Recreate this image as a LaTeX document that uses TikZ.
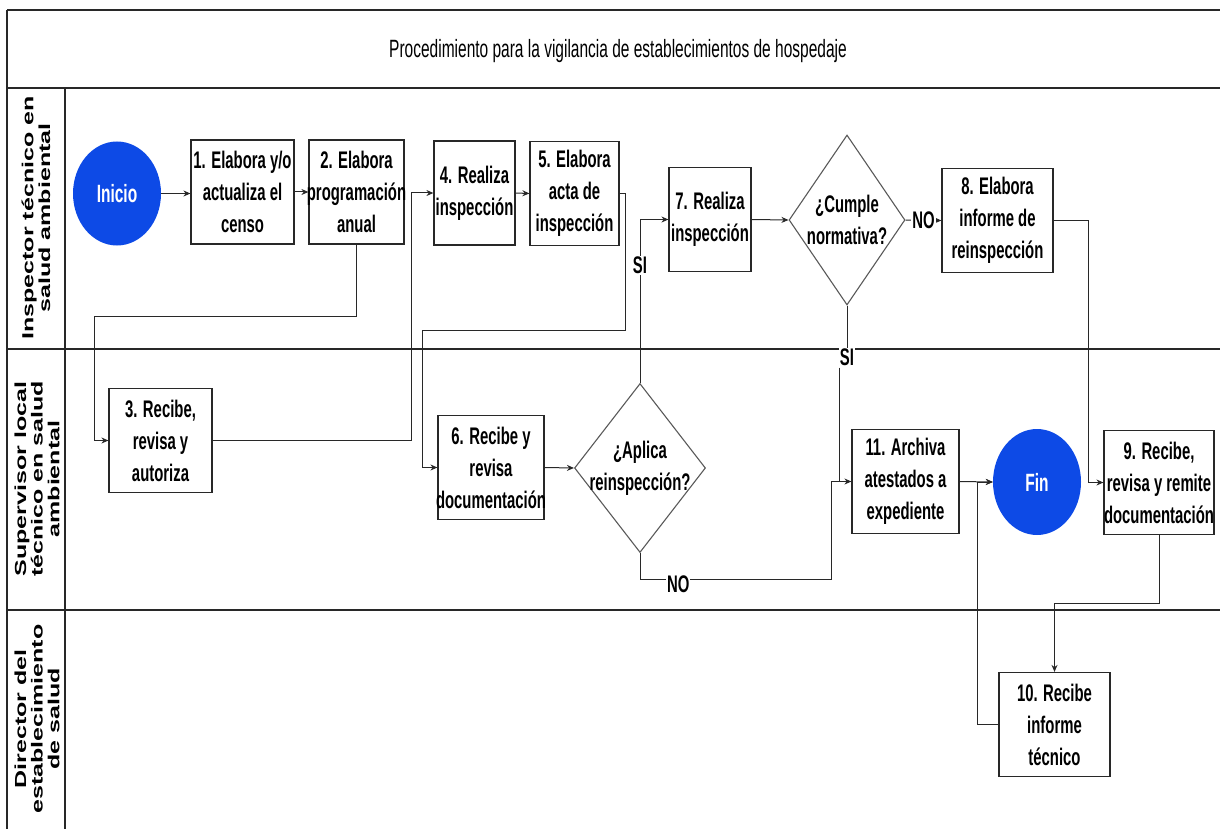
\documentclass[tikz,border=0pt]{standalone}
\usepackage{fontspec}
\setmainfont{Liberation Sans}
\newfontfamily\fuentepaso{Liberation Sans}[FakeStretch=0.62]
\usetikzlibrary{shapes.geometric,arrows.meta}

\definecolor{azulfin}{RGB}{13,74,230}
\definecolor{borde}{RGB}{40,40,40}

\tikzstyle{paso} = [rectangle, draw=borde, line width=1.2pt, align=center, minimum height=104pt, inner xsep=-3pt, inner ysep=0pt, font=\fuentepaso\bfseries\fontsize{24}{32}\selectfont]
\tikzstyle{rombo} = [diamond, draw=black!65, line width=1.1pt, align=center, inner sep=-9pt, font=\fuentepaso\bfseries\fontsize{24}{32}\selectfont]
\tikzstyle{terminal} = [ellipse, fill=azulfin, text=white, minimum width=88pt, minimum height=104pt, inner sep=0pt, font=\fuentepaso\bfseries\fontsize{25}{25}\selectfont]
\tikzstyle{carril} = [rotate=90, yscale=0.64, align=center, font=\bfseries\fontsize{25}{26}\selectfont]
\tikzstyle{etiq} = [fill=white, inner sep=1pt, font=\fuentepaso\bfseries\fontsize{24}{24}\selectfont]

\begin{document}
\begin{tikzpicture}[x=1pt, y=-1pt]
        \tikzset{marco/.style={draw=borde, line width=1.4pt},
                 linea/.style={draw=borde, line width=1pt},
                 flecha/.style={linea, -{Stealth[length=7pt,width=6pt]}}}
        \useasboundingbox (0,0) rectangle (1220,829);
        % Marco de carriles
        \foreach \yy in {10,88,349,610}
            \draw[marco] (7,\yy) -- (1220,\yy);
        \draw[marco] (7,10) -- (7,829);
        \draw[marco] (65,88) -- (65,829);
        \node (titulo) at (618,51) [font=\fuentepaso\fontsize{25}{25}\selectfont] {Procedimiento para la vigilancia de establecimientos de hospedaje};
        \node (inspector) at (36,218) [carril] {Inspector técnico en\\salud ambiental};
        \node (supervisor) at (37,479) [carril] {Supervisor local\\técnico en salud\\ambiental};
        \node (director) at (37,719) [carril] {Director del\\establecimiento\\de salud};
        % Pasos
        \node (inicio) at (117,193.5) [terminal] {Inicio};
        \node (p1) at (242.5,192) [paso, minimum width=103pt] {1. Elabora y/o\\actualiza el\\censo};
        \node (p2) at (356.5,192) [paso, minimum width=95pt] {2. Elabora\\programación\\anual};
        \node (p3) at (160.5,440.5) [paso, minimum width=103pt] {3. Recibe,\\revisa y\\autoriza};
        \node (p4) at (474.5,193) [paso, minimum width=81pt] {4. Realiza\\inspección};
        \node (p5) at (574.5,193.5) [paso, minimum width=89pt] {5. Elabora\\acta de\\inspección};
        \node (p6) at (491,467.5) [paso, minimum width=106pt] {6. Recibe y\\revisa\\documentación};
        \node (aplica) at (640,468) [rombo, minimum width=131pt, minimum height=169pt] {¿Aplica\\reinspección?};
        \node (p7) at (710,219.5) [paso, minimum width=82pt] {7. Realiza\\inspección};
        \node (cumple) at (847,220) [rombo, minimum width=116pt, minimum height=170pt] {¿Cumple\\normativa?};
        \node (p8) at (997.5,220.5) [paso, minimum width=111pt] {8. Elabora\\informe de\\reinspección};
        \node (p9) at (1159,482.5) [paso, minimum width=110pt] {9. Recibe,\\revisa y remite\\documentación};
        \node (p10) at (1054.5,724.5) [paso, minimum width=111pt] {10. Recibe\\informe\\técnico};
        \node (p11) at (905.5,481.5) [paso, minimum width=107pt] {11. Archiva\\atestados a\\expediente};
        \node (fin) at (1037,482) [terminal, minimum height=106pt] {Fin};
        \coordinate (c1) at (831,579);
        \coordinate (jn) at (839,482);
        \coordinate (jf) at (977,482);
        % Conectores
        \draw[flecha] (inicio.east) -- (inicio.east -| p1.west);
        \draw[flecha] (p1.east) -- (p2.west);
        \draw[flecha] (p2.south) -- ++(0,72) -| ([xshift=-14pt]p3.west) -- (p3.west);
        \draw[flecha] (p3.east) -| ([xshift=-22pt]p4.west) -- (p4.west);
        \draw[flecha] (p4.east) -- (p5.west);
        \draw[flecha] (p5.east) -- ++(6,0) -- ++(0,137) -| ([xshift=-15pt]p6.west) -- (p6.west);
        \draw[flecha] (p6.east) -- (aplica.west);
        \draw[flecha] (aplica.north) |- node[etiq, pos=0.36] {SI} (p7.west);
        \draw[flecha] (aplica.south) |- node[etiq, pos=0.6, yshift=-5pt] {NO} (c1) |- (p11.west);
        \draw[flecha] (p7.east) -- (cumple.west);
        \draw[flecha] (cumple.east) -- node[etiq] {NO} (p8.west);
        \draw[linea] (cumple.south) -- ++(0,52) node[etiq] (si2) {SI};
        \draw[linea] (si2.south -| jn) -- (jn);
        \draw[flecha] (p8.east) -| ([xshift=-15pt]p9.west) -- (p9.west);
        \draw[flecha] (p9.south) -- ++(0,68) -| (p10.north);
        \draw[flecha] (p11.east) -- (fin.west);
        \draw[flecha] (p10.west) -| (jf) -- (fin.west);
\end{tikzpicture}
\end{document}
